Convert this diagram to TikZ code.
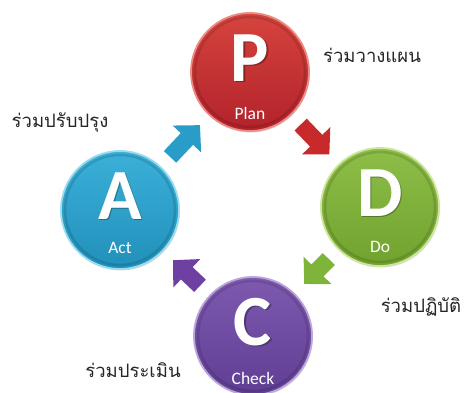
\documentclass[tikz,border=0pt]{standalone}
\usepackage{fontspec}
\setmainfont{Carlito}
\newfontfamily\thaifont[Script=Thai]{Loma}
\usetikzlibrary{arrows.meta,shadows}
\definecolor{redT}{HTML}{D6443E}\definecolor{redB}{HTML}{B2222A}\definecolor{redR}{HTML}{EC8C84}
\definecolor{bluT}{HTML}{3BB0D8}\definecolor{bluB}{HTML}{2190BA}\definecolor{bluR}{HTML}{9ADCF0}
\definecolor{grnT}{HTML}{8EBE48}\definecolor{grnB}{HTML}{70A22E}\definecolor{grnR}{HTML}{CDE69A}
\definecolor{purT}{HTML}{7D5AB0}\definecolor{purB}{HTML}{603E94}\definecolor{purR}{HTML}{BCA4DC}
\definecolor{arRed}{HTML}{C82A2C}\definecolor{arBlu}{HTML}{2A9CC8}
\definecolor{arGrn}{HTML}{7EB43A}\definecolor{arPur}{HTML}{6E40A2}
\tikzset{
  disc/.style n args={3}{circle, minimum size=118pt, inner sep=0pt, outer sep=0pt,
    top color=#1, bottom color=#2, draw=#3, line width=1.8pt,
    drop shadow={opacity=0.3, shadow xshift=0.8pt, shadow yshift=-1.5pt}},
  bevel/.style={line width=2.5pt, draw=black, opacity=0.12},
  letter/.style={text=white, inner sep=0pt, font=\fontsize{72}{72}\selectfont\bfseries},
  lshadow/.style={text=black, text opacity=0.3, inner sep=0pt, font=\fontsize{72}{72}\selectfont\bfseries},
  caption/.style={text=white, inner sep=0pt, font=\fontsize{17.5}{17.5}\selectfont},
  thai/.style={text=black!85, inner sep=0pt, anchor=base, font=\thaifont\fontsize{18.5}{22}\selectfont},
  blk/.style={line width=17pt, -{Triangle[width=38pt,length=19pt]}, draw=#1,
    shorten >=14pt, shorten <=14pt},
}
\begin{document}
\begin{tikzpicture}[x=1pt,y=1pt]
\fill[white] (0,0) rectangle (465,392);
\useasboundingbox (0,0) rectangle (465,392);
% circles
\node[disc={redT}{redB}{redR}] (P) at (250,320) {};
\node[disc={bluT}{bluB}{bluR}] (A) at (120,182) {};
\node[disc={grnT}{grnB}{grnR}] (D) at (380,185) {};
\node[disc={purT}{purB}{purR}] (C) at (253,56) {};
\foreach \n in {P,A,D,C}{\draw[bevel] (\n.center) circle (55pt);}
% letters
\foreach \n/\l in {P/P,A/A,D/D,C/C}{
  \node[lshadow] (\n s) at ([shift={(1.2,12.5)}]\n.center) {\l};
  \node[letter] (\n l) at ([shift={(0,14)}]\n.center) {\l};
}
\node[caption] (Pc) at ([shift={(0,-41)}]P.center) {Plan};
\node[caption] (Ac) at ([shift={(0,-38)}]A.center) {Act};
\node[caption] (Dc) at ([shift={(0,-40)}]D.center) {Do};
\node[caption] (Cc) at ([shift={(0,-42)}]C.center) {Check};
% block arrows
\draw[blk=arBlu] (A) -- (P);
\draw[blk=arRed] (P) -- (D);
\draw[blk=arGrn] (D) -- (C);
\draw[blk=arPur] (C) -- (A);
% thai labels
\node[thai] (tP) at (372,330) {ร่วมวางแผน};
\node[thai] (tA) at (60,265) {ร่วมปรับปรุง};
\node[thai] (tD) at (421,80) {ร่วมปฏิบัติ};
\node[thai] (tC) at (133,15) {ร่วมประเมิน};
\end{tikzpicture}
\end{document}
